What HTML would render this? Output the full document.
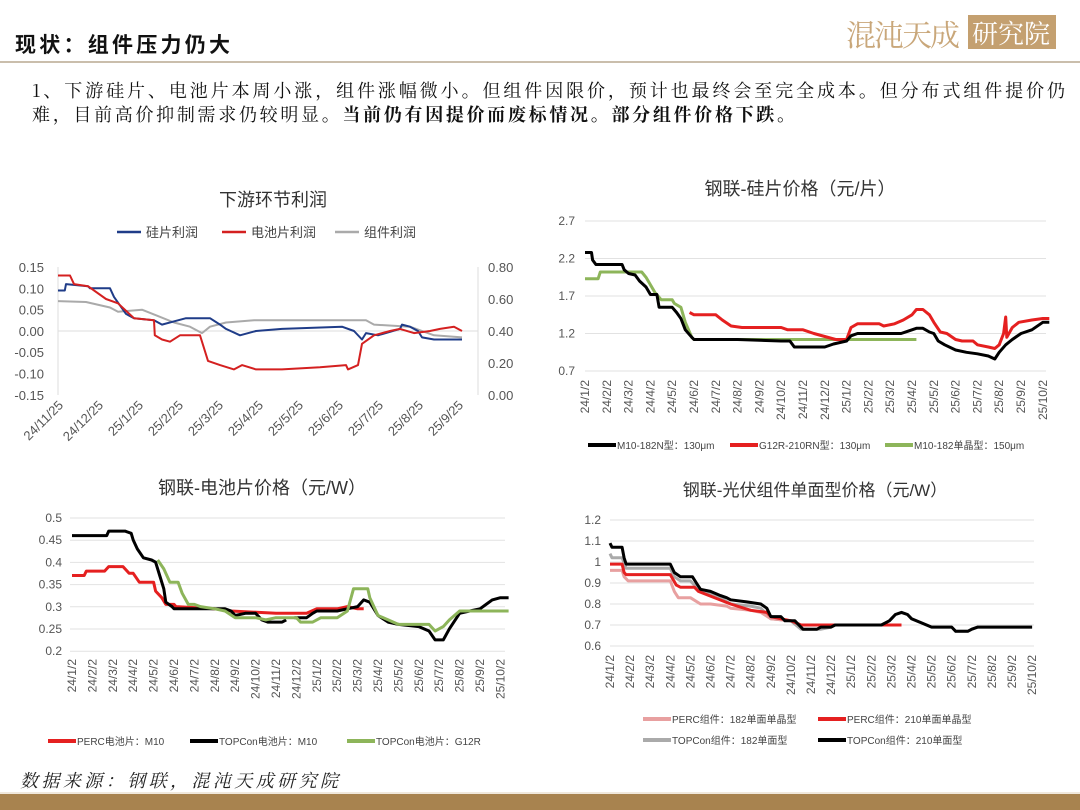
<!DOCTYPE html>
<html><head><meta charset="utf-8"><style>
body{margin:0;background:#fff;}
svg{display:block;font-family:"Liberation Sans","Noto Sans CJK SC",sans-serif;}
</style></head><body>
<svg id="s" width="1080" height="810" viewBox="0 0 1080 810" xmlns="http://www.w3.org/2000/svg">
<rect width="1080" height="810" fill="#fff"/>
<text x="15" y="52" font-size="21" font-weight="bold" font-family="Noto Sans CJK SC, sans-serif" fill="#111" textLength="215" lengthAdjust="spacing">现状：组件压力仍大</text>
<line x1="0" y1="62" x2="1080" y2="62" stroke="#b8a890" stroke-width="1.5"/>
<text x="846" y="46" font-size="30" fill="#c9a77a" font-family="Noto Serif CJK SC, serif" letter-spacing="-2">混沌天成</text>
<rect x="968" y="15" width="88" height="34" fill="#c4a070"/>
<text x="972" y="43" font-size="26" fill="#fff" font-family="Noto Serif CJK SC, serif">研究院</text>
<text x="32" y="97" font-size="18" fill="#111" font-family="Noto Serif CJK SC, serif" textLength="1033" lengthAdjust="spacing">1、下游硅片、电池片本周小涨，组件涨幅微小。但组件因限价，预计也最终会至完全成本。但分布式组件提价仍</text>
<text x="32" y="121" font-size="18" fill="#111" font-family="Noto Serif CJK SC, serif" textLength="763" lengthAdjust="spacing">难，目前高价抑制需求仍较明显。<tspan font-weight="bold">当前仍有因提价而废标情况。部分组件价格下跌。</tspan></text>
<text x="20" y="787" font-size="18" font-style="italic" fill="#222" font-family="Noto Serif CJK SC, serif" textLength="318" lengthAdjust="spacing">数据来源：钢联，混沌天成研究院</text>
<rect x="0" y="794" width="1080" height="16" fill="#a8834f"/>
<line x1="0" y1="793" x2="1080" y2="793" stroke="#e0d0b8" stroke-width="1"/>
<g id="g"></g>
</svg>
<script>
const NS="http://www.w3.org/2000/svg",G=document.getElementById('g');
function el(t,a,txt){const e=document.createElementNS(NS,t);for(const k in a)e.setAttribute(k,a[k]);if(txt!=null)e.textContent=txt;G.appendChild(e);return e;}
function line(pts,fx,fy,col,w){el('polyline',{points:pts.map(p=>fx(p[0]).toFixed(1)+','+fy(p[1]).toFixed(1)).join(' '),fill:'none',stroke:col,'stroke-width':w,'stroke-linejoin':'round'});}
function lg(x,y,col,txt,w,fs){el('line',{x1:x,y1:y,x2:x+28,y2:y,stroke:col,'stroke-width':w||3});el('text',{x:x+29,y:y+4,'font-size':fs||10,fill:'#444'},txt);}
const dates=[];for(let i=0;i<22;i++){const y=i<12?24:25,m=i%12+1;dates.push(y+'/'+m+'/2');}
function vlabels(x0,dx,y,fs){dates.forEach((d,i)=>{const x=x0+dx*i;el('text',{x:0,y:0,'font-size':fs,fill:'#555','text-anchor':'end',transform:`translate(${x+4},${y}) rotate(-90)`},d);});}
// Chart1
el('text',{x:273,y:206,'font-size':18,'text-anchor':'middle',fill:'#333'},'下游环节利润');
el('line',{x1:117,y1:232,x2:141,y2:232,stroke:'#1f3c88','stroke-width':2.5});el('text',{x:146,y:237,'font-size':13,fill:'#444'},'硅片利润');
el('line',{x1:222,y1:232,x2:246,y2:232,stroke:'#d42020','stroke-width':2.5});el('text',{x:251,y:237,'font-size':13,fill:'#444'},'电池片利润');
el('line',{x1:335,y1:232,x2:359,y2:232,stroke:'#aaa','stroke-width':2.5});el('text',{x:364,y:237,'font-size':13,fill:'#444'},'组件利润');
const f1x=m=>58+40*m,f1y=v=>331-v*426.7;
['0.15','0.10','0.05','0.00','-0.05','-0.10','-0.15'].forEach((t,i)=>el('text',{x:44,y:272+i*21.3,'font-size':13,fill:'#555','text-anchor':'end'},t));
['0.80','0.60','0.40','0.20','0.00'].forEach((t,i)=>el('text',{x:488,y:272+i*32,'font-size':13,fill:'#555'},t));
el('line',{x1:58,y1:331,x2:478,y2:331,stroke:'#ddd'});el('line',{x1:58,y1:267,x2:58,y2:395,stroke:'#ddd'});el('line',{x1:478,y1:267,x2:478,y2:395,stroke:'#ddd'});
['24/11/25','24/12/25','25/1/25','25/2/25','25/3/25','25/4/25','25/5/25','25/6/25','25/7/25','25/8/25','25/9/25'].forEach((d,i)=>{el('text',{x:0,y:0,'font-size':13,fill:'#555','text-anchor':'end',transform:`translate(${64+40*i},406) rotate(-45)`},d);});
line([[0,0.07],[0.7,0.068],[1.3,0.055],[1.5,0.045],[2.1,0.05],[2.5,0.035],[2.9,0.02],[3.3,0.01],[3.6,-0.005],[3.8,0.01],[4.2,0.02],[4.9,0.025],[7.7,0.025],[7.9,0.015],[8.8,0.01],[9.4,-0.01],[10.1,-0.015]],f1x,f1y,'#aaa',2);
line([[0,0.095],[0.17,0.095],[0.2,0.11],[0.75,0.105],[0.8,0.1],[1.3,0.1],[1.4,0.08],[1.7,0.04],[1.9,0.03],[2.4,0.025],[2.6,0.015],[3.0,0.025],[3.2,0.03],[3.8,0.03],[4.05,0.015],[4.2,0.005],[4.55,-0.01],[4.95,0],[5.6,0.005],[7.1,0.01],[7.4,0],[7.6,-0.02],[7.7,-0.005],[8.0,-0.01],[8.55,0.005],[8.6,0.015],[8.8,0.01],[9.0,0],[9.1,-0.015],[9.4,-0.02],[10.1,-0.02]],f1x,f1y,'#1f3c88',2);
line([[0,0.13],[0.3,0.13],[0.4,0.11],[0.75,0.105],[1.2,0.075],[1.5,0.065],[1.9,0.03],[2.4,0.025],[2.42,-0.01],[2.6,-0.02],[2.8,-0.025],[3.05,-0.01],[3.55,-0.01],[3.75,-0.07],[4.05,-0.08],[4.4,-0.09],[4.6,-0.08],[4.95,-0.09],[5.6,-0.09],[6.55,-0.085],[7.2,-0.08],[7.25,-0.09],[7.5,-0.08],[7.6,-0.03],[7.9,-0.01],[8.3,0],[8.55,0.005],[8.9,-0.005],[9.3,0],[9.55,0.005],[9.9,0.01],[10.1,0]],f1x,f1y,'#d42020',2);
// Chart2
el('text',{x:800,y:195,'font-size':18,'text-anchor':'middle',fill:'#333'},'钢联-硅片价格（元/片）');
const f2x=m=>585+21.8*m,f2y=v=>371-(v-0.7)*75;
['2.7','2.2','1.7','1.2','0.7'].forEach((t,i)=>{const y=221+i*37.5;el('line',{x1:585,y1:y,x2:1046,y2:y,stroke:'#e2e2e2'});el('text',{x:575,y:y+4,'font-size':12,fill:'#555','text-anchor':'end'},t);});
vlabels(585,21.8,380,12);
line([[0,1.93],[0.6,1.93],[0.7,2.02],[2.6,2.02],[2.8,1.95],[3,1.85],[3.2,1.75],[3.5,1.65],[4,1.65],[4.1,1.6],[4.4,1.55],[4.6,1.35],[4.9,1.15],[5,1.12],[15.2,1.12]],f2x,f2y,'#8db55a',3);
line([[4.8,1.48],[5,1.45],[6,1.45],[6.3,1.38],[6.7,1.3],[7.2,1.28],[9,1.28],[9.3,1.25],[10,1.25],[10.5,1.2],[11,1.16],[11.5,1.12],[12,1.12],[12.2,1.28],[12.5,1.33],[13.5,1.33],[13.7,1.3],[14.2,1.33],[14.6,1.38],[15,1.45],[15.2,1.52],[15.5,1.52],[15.8,1.45],[16,1.35],[16.3,1.22],[16.6,1.2],[17,1.12],[17.3,1.1],[17.8,1.1],[18,1.05],[18.5,1.02],[18.8,1.0],[19,1.05],[19.2,1.2],[19.3,1.42],[19.35,1.15],[19.6,1.28],[19.9,1.35],[20.5,1.38],[21,1.4],[21.3,1.4]],f2x,f2y,'#e52020',3);
line([[0,2.28],[0.3,2.28],[0.35,2.18],[0.5,2.12],[1.7,2.12],[1.8,2.05],[2,2.0],[2.3,1.98],[2.5,1.9],[2.8,1.82],[3,1.72],[3.3,1.72],[3.4,1.55],[4,1.55],[4.2,1.48],[4.4,1.4],[4.6,1.25],[4.9,1.15],[5,1.12],[7,1.12],[9,1.1],[9.4,1.1],[9.6,1.02],[11,1.02],[11.4,1.06],[12,1.1],[12.2,1.17],[12.5,1.2],[14.5,1.2],[14.8,1.23],[15.2,1.27],[15.5,1.27],[15.8,1.22],[16,1.2],[16.2,1.1],[16.5,1.05],[17,0.98],[17.5,0.95],[18,0.93],[18.5,0.9],[18.8,0.86],[19,0.95],[19.3,1.05],[19.6,1.12],[20,1.2],[20.5,1.25],[21,1.35],[21.3,1.35]],f2x,f2y,'#000',3);
lg(588,445,'#000','M10-182N型：130μm',4);lg(730,445,'#e52020','G12R-210RN型：130μm',4);lg(885,445,'#8db55a','M10-182单晶型：150μm',4);
// Chart3
el('text',{x:262,y:494,'font-size':18,'text-anchor':'middle',fill:'#333'},'钢联-电池片价格（元/W）');
const f3x=m=>72+20.4*m,f3y=v=>651-(v-0.2)*444;
['0.5','0.45','0.4','0.35','0.3','0.25','0.2'].forEach((t,i)=>{const y=518+i*22.2;el('line',{x1:70,y1:y,x2:505,y2:y,stroke:'#e2e2e2'});el('text',{x:62,y:y+4,'font-size':12,fill:'#555','text-anchor':'end'},t);});
vlabels(72,20.4,659,12);
line([[0,0.37],[0.6,0.37],[0.7,0.38],[1.6,0.38],[1.8,0.39],[2.5,0.39],[2.8,0.375],[3,0.375],[3.3,0.355],[4,0.355],[4.1,0.335],[4.4,0.32],[4.6,0.305],[5,0.305],[5.1,0.3],[7,0.295],[7.8,0.29],[10,0.285],[11.5,0.285],[12,0.295],[13,0.295],[13.5,0.3],[14,0.295],[14.3,0.295]],f3x,f3y,'#e52020',3);
line([[0,0.46],[1.7,0.46],[1.8,0.47],[2.6,0.47],[2.9,0.465],[3,0.45],[3.2,0.43],[3.5,0.41],[3.9,0.405],[4.1,0.4],[4.3,0.37],[4.5,0.34],[4.6,0.31],[4.9,0.3],[5,0.295],[7.5,0.295],[7.8,0.29],[8,0.28],[8.5,0.285],[9,0.285],[9.3,0.27],[9.6,0.265],[10.3,0.265],[10.5,0.27]],f3x,f3y,'#000',3);
line([[10.9,0.275],[11.5,0.275],[11.8,0.285],[12,0.29],[13,0.29],[13.5,0.295],[14,0.3],[14.3,0.315],[14.6,0.31],[15,0.28],[15.5,0.265],[16,0.26],[17,0.255],[17.5,0.245],[17.8,0.225],[18.2,0.225],[18.5,0.25],[19,0.285],[19.5,0.29],[20,0.295],[20.3,0.305],[20.6,0.315],[21,0.32],[21.4,0.32]],f3x,f3y,'#000',3);
line([[4.2,0.405],[4.5,0.385],[4.8,0.355],[5.2,0.355],[5.4,0.33],[5.7,0.305],[6,0.305],[6.3,0.3],[7,0.295],[7.5,0.29],[8,0.275],[9,0.275],[9.5,0.27],[10,0.275],[11,0.275],[11.2,0.265],[11.8,0.265],[12.2,0.275],[13,0.275],[13.5,0.29],[13.8,0.34],[14.5,0.34],[14.6,0.32],[15,0.28],[15.5,0.27],[16,0.26],[17.5,0.26],[17.8,0.245],[18.2,0.255],[18.5,0.27],[19,0.29],[21.4,0.29]],f3x,f3y,'#8db55a',3);
lg(48,741,'#e52020','PERC电池片：M10',4);lg(190,741,'#000','TOPCon电池片：M10',4);lg(347,741,'#8db55a','TOPCon电池片：G12R',4);
// Chart4
el('text',{x:815,y:496,'font-size':17,'text-anchor':'middle',fill:'#333'},'钢联-光伏组件单面型价格（元/W）');
const f4x=m=>610+20.1*m,f4y=v=>646-(v-0.6)*210;
['1.2','1.1','1','0.9','0.8','0.7','0.6'].forEach((t,i)=>{const y=520+i*21;el('line',{x1:610,y1:y,x2:1034,y2:y,stroke:'#e2e2e2'});el('text',{x:601,y:y+4,'font-size':12,fill:'#555','text-anchor':'end'},t);});
vlabels(610,20.1,655,12);
line([[0,1.04],[0.1,1.02],[0.6,1.02],[0.8,0.97],[3,0.97],[3.2,0.93],[3.5,0.91],[4,0.91],[4.5,0.86],[5,0.85],[5.5,0.83],[6,0.8],[7,0.79],[7.5,0.78],[8,0.73],[9,0.72],[9.5,0.68],[10.5,0.68],[11,0.69],[11.2,0.7],[13.5,0.7],[13.9,0.72],[14.2,0.75],[14.5,0.76],[14.8,0.75],[15,0.73],[15.5,0.71],[16,0.69],[17,0.69],[17.2,0.67],[17.8,0.67],[18,0.68],[18.3,0.69],[21,0.69]],f4x,f4y,'#aaa',3);
line([[0,0.96],[0.6,0.96],[0.7,0.93],[0.9,0.91],[3,0.91],[3.2,0.86],[3.4,0.83],[4,0.83],[4.5,0.8],[5,0.8],[5.8,0.79],[6,0.78],[7,0.77],[7.5,0.76],[8,0.73],[9,0.72],[9.5,0.7],[14.5,0.7]],f4x,f4y,'#e8a0a0',3);
line([[0,0.99],[0.6,0.99],[0.7,0.95],[0.8,0.94],[3,0.94],[3.3,0.89],[3.5,0.88],[4.2,0.88],[4.4,0.86],[6,0.8],[7,0.77],[7.8,0.76],[8,0.74],[9,0.72],[9.5,0.7],[14.5,0.7]],f4x,f4y,'#e52020',3);
line([[0,1.09],[0.1,1.07],[0.6,1.07],[0.7,1.02],[0.8,0.99],[3,0.99],[3.2,0.95],[3.5,0.93],[4.1,0.93],[4.3,0.9],[4.5,0.87],[5,0.86],[5.5,0.84],[5.8,0.83],[6,0.82],[6.8,0.81],[7.5,0.8],[7.8,0.78],[8,0.74],[8.5,0.74],[8.7,0.72],[9.2,0.72],[9.4,0.7],[9.6,0.68],[10.3,0.68],[10.5,0.69],[11,0.69],[11.2,0.7],[13.5,0.7],[13.9,0.72],[14.2,0.75],[14.5,0.76],[14.8,0.75],[15,0.73],[15.5,0.71],[16,0.69],[17,0.69],[17.2,0.67],[17.8,0.67],[18,0.68],[18.3,0.69],[21,0.69]],f4x,f4y,'#000',3);
lg(643,719,'#e8a0a0','PERC组件：182单面单晶型',4);lg(818,719,'#e52020','PERC组件：210单面单晶型',4);
lg(643,740,'#aaa','TOPCon组件：182单面型',4);lg(818,740,'#000','TOPCon组件：210单面型',4);
</script>
</body></html>
